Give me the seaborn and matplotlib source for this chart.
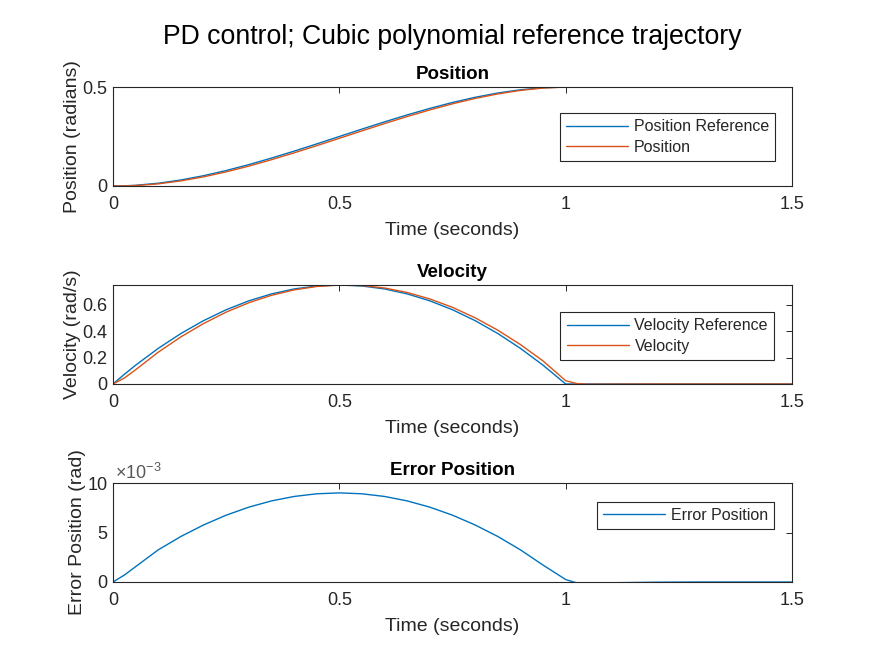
import numpy as np
import pandas as pd
import matplotlib
matplotlib.use("Agg")
import matplotlib.pyplot as plt
import seaborn as sns

# ---------------- data ----------------
time_s = [0.0, 0.025, 0.05, 0.1, 0.15, 0.2, 0.25, 0.3, 0.35, 0.4, 0.45, 0.5,
          0.55, 0.6, 0.65, 0.7, 0.75, 0.8, 0.85, 0.9, 0.95, 1.0,
          1.025, 1.05, 1.1, 1.2, 1.3, 1.4, 1.5]

position_ref = [0.0, 0.0009, 0.0036, 0.014, 0.0304, 0.052, 0.0781, 0.108, 0.1409, 0.176, 0.2126, 0.25,
                0.2874, 0.324, 0.3591, 0.392, 0.4219, 0.448, 0.4696, 0.486, 0.4964, 0.5,
                0.5, 0.5, 0.5, 0.5, 0.5, 0.5, 0.5]
position = [0.0, 0.0002, 0.0021, 0.0108, 0.0258, 0.0462, 0.0714, 0.1004, 0.1327, 0.1674, 0.2037, 0.241,
            0.2785, 0.3154, 0.3509, 0.3844, 0.4151, 0.4422, 0.465, 0.4828, 0.4947, 0.4998,
            0.5001, 0.5002, 0.5001, 0.5, 0.5, 0.5, 0.5]

velocity_ref = [0.0, 0.0731, 0.1425, 0.27, 0.3825, 0.48, 0.5625, 0.63, 0.6825, 0.72, 0.7425, 0.75,
                0.7425, 0.72, 0.6825, 0.63, 0.5625, 0.48, 0.3825, 0.27, 0.1425, 0.0,
                0.0, 0.0, 0.0, 0.0, 0.0, 0.0, 0.0]
velocity = [0.0, 0.045, 0.108, 0.241, 0.357, 0.458, 0.5445, 0.6156, 0.6717, 0.7128, 0.7389, 0.75,
            0.7461, 0.7272, 0.6933, 0.6444, 0.5805, 0.5016, 0.4077, 0.2988, 0.1749, 0.025,
            0.003, -0.002, -0.001, 0.0, 0.0, 0.0, 0.0]

error_position = [0.0, 0.0007, 0.00155, 0.00325, 0.0046, 0.00576, 0.00675, 0.00756, 0.00819, 0.00864, 0.00891, 0.0090,
                  0.00891, 0.00864, 0.00819, 0.00756, 0.00675, 0.00576, 0.0046, 0.00325, 0.00171, 0.00025,
                  -0.0001, -0.00015, -0.00008, -0.00002, 0.0, 0.0, 0.0]

x_ticks = [0, 0.5, 1, 1.5]
x_tick_labels = ["0", "0.5", "1", "1.5"]
pos_ticks = [0, 0.5]
pos_tick_labels = ["0", "0.5"]
vel_ticks = [0, 0.2, 0.4, 0.6]
vel_tick_labels = ["0", "0.2", "0.4", "0.6"]
err_ticks = [0, 0.005, 0.01]
err_tick_labels = ["0", "5", "10"]

df = pd.DataFrame({
    "t": time_s,
    "pos_ref": position_ref, "pos": position,
    "vel_ref": velocity_ref, "vel": velocity,
    "err": error_position,
})

# ---------------- style ----------------
sns.set_style("white")
plt.rcParams["font.family"] = ["Liberation Sans", "DejaVu Sans"]
plt.rcParams["mathtext.fontset"] = "custom"
plt.rcParams["mathtext.rm"] = "Liberation Sans"
plt.rcParams["mathtext.it"] = "Liberation Sans"

BLUE = "#0072BD"
ORANGE = "#D95319"
AX = "#262626"
TICK_FS = 13
LABEL_FS = 14
TITLE_FS = 13.5
LEG_FS = 11.5
LW = 1.0

W, H = 875, 656
fig = plt.figure(figsize=(W / 100, H / 100), dpi=100)

def axes_rect(top_px, bottom_px, left_px=113, right_px=792):
    return [left_px / W, (H - bottom_px) / H, (right_px - left_px) / W, (bottom_px - top_px) / H]

ax1 = fig.add_axes(axes_rect(87, 186))
ax2 = fig.add_axes(axes_rect(285, 384))
ax3 = fig.add_axes(axes_rect(483, 582))

sns.lineplot(data=df, x="t", y="pos_ref", ax=ax1, color=BLUE, linewidth=LW, label="Position Reference")
sns.lineplot(data=df, x="t", y="pos", ax=ax1, color=ORANGE, linewidth=LW, label="Position")
sns.lineplot(data=df, x="t", y="vel_ref", ax=ax2, color=BLUE, linewidth=LW, label="Velocity Reference")
sns.lineplot(data=df, x="t", y="vel", ax=ax2, color=ORANGE, linewidth=LW, label="Velocity")
sns.lineplot(data=df, x="t", y="err", ax=ax3, color=BLUE, linewidth=LW, label="Error Position")

specs = [
    (ax1, "Position", "Position (radians)", (0, 0.5), pos_ticks, pos_tick_labels, (0.975, 0.737)),
    (ax2, "Velocity", "Velocity (rad/s)", (0, 0.75), vel_ticks, vel_tick_labels, (0.9735, 0.727)),
    (ax3, "Error Position", "Error Position (rad)", (0, 0.01), err_ticks, err_tick_labels, (0.9735, 0.808)),
]

for ax, title, ylabel, ylim, yt, ytl, anchor in specs:
    ax.set_xlim(0, 1.5)
    ax.set_ylim(*ylim)
    ax.set_xticks(x_ticks)
    ax.set_xticklabels(x_tick_labels)
    ax.set_yticks(yt)
    ax.set_yticklabels(ytl)
    ax.set_title(title, fontsize=TITLE_FS, fontweight="bold", color="black", pad=5.5)
    ax.set_xlabel("Time (seconds)", fontsize=LABEL_FS, color=AX, labelpad=6.5)
    ax.set_ylabel(ylabel, fontsize=LABEL_FS, color=AX, labelpad=1)
    ax.tick_params(axis="x", pad=7.5)
    ax.tick_params(axis="y", pad=4)
    ax.tick_params(direction="in", length=4.5, width=0.7, colors=AX, labelsize=TICK_FS,
                   top=True, right=True)
    for s in ax.spines.values():
        s.set_visible(True)
        s.set_color(AX)
        s.set_linewidth(0.8)
    leg = ax.legend(loc="upper right", bbox_to_anchor=anchor, borderaxespad=0,
                    fontsize=LEG_FS, frameon=True, fancybox=False, framealpha=1,
                    handlelength=3.9, handletextpad=0.35, labelspacing=0.35,
                    borderpad=0.38)
    leg.get_frame().set_edgecolor(AX)
    leg.get_frame().set_linewidth(0.8)
    for txt in leg.get_texts():
        txt.set_color(AX)

ax3.text(0.003, 1.005, r"$\times10^{-3}$", transform=ax3.transAxes, ha="left", va="bottom",
         fontsize=TICK_FS, color="#595959")

fig.text(452.5 / W, (H - 37) / H, "PD control; Cubic polynomial reference trajectory",
         ha="center", va="center", fontsize=19.2, color="black")

fig.savefig("out.png", dpi=100)
